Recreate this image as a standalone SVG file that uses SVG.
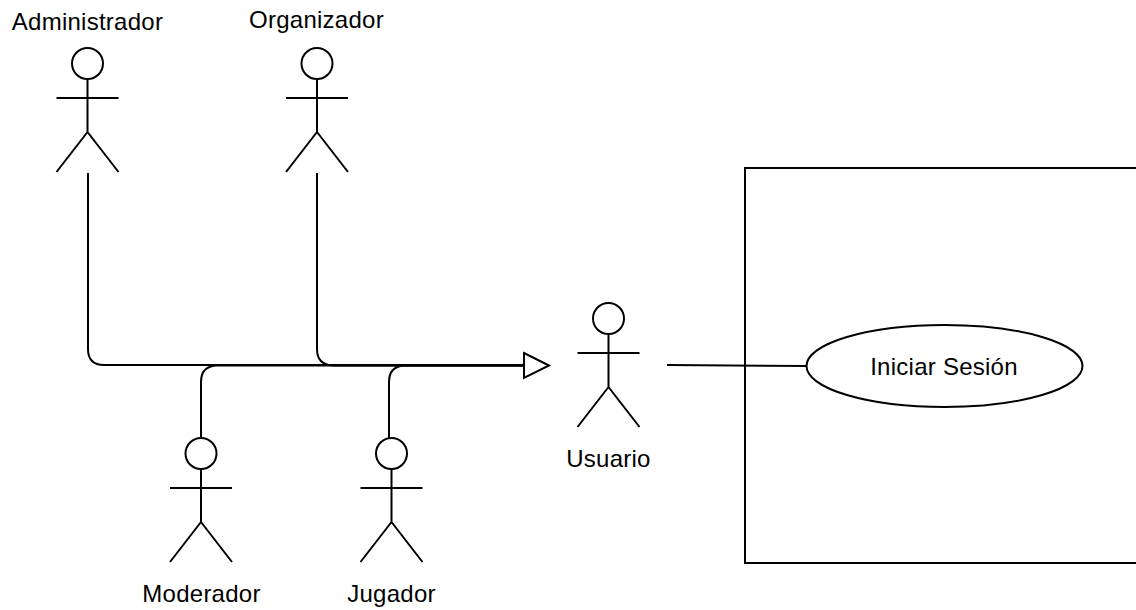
<svg xmlns="http://www.w3.org/2000/svg" width="1136" height="610" viewBox="0 0 1136 610">
<style>
.s{fill:none;stroke:#000;stroke-width:2}
.f{fill:#fff;stroke:#000;stroke-width:2}
text{font-family:"Liberation Sans",Arial,sans-serif;font-size:24px;letter-spacing:.25px;fill:#000;text-anchor:middle}
</style>
<defs>
<g id="actor"><circle class="f" cx="0" cy="15.500" r="15.500"/><path class="s" d="M0 31V84M-31 50H31M0 84L-31 124M0 84L31 124"/></g>
</defs>
<rect width="1136" height="610" fill="#fff"/>
<g id="connectors">
<path class="s" d="M88 173V349Q88 365 104 365H524"/>
<path class="s" d="M317 173V349Q317 365 333 365.500H524"/>
<path class="s" d="M201 438V382Q201 366 217 365.500H524"/>
<path class="s" d="M389 438V382Q389 366 405 365.500H524"/>
<path class="f" d="M524 353L549 365.500L524 378Z"/>
<path class="s" d="M667 365L806 366"/>
</g>
<g id="boundary"><rect class="s" x="745" y="168" width="392" height="395"/></g>
<g id="administrador"><use href="#actor" x="87.500" y="48"/><text x="87.500" y="30">Administrador</text></g>
<g id="organizador"><use href="#actor" x="317" y="48"/><text x="316.500" y="28">Organizador</text></g>
<g id="moderador"><use href="#actor" x="201" y="438"/><text x="201.500" y="602">Moderador</text></g>
<g id="jugador"><use href="#actor" x="391.500" y="438"/><text x="391.500" y="602">Jugador</text></g>
<g id="usuario"><use href="#actor" x="608.500" y="303"/><text x="608.500" y="467">Usuario</text></g>
<g id="iniciar-sesion"><ellipse class="f" cx="944.500" cy="366" rx="138" ry="41"/><text x="944" y="375">Iniciar Sesión</text></g>
</svg>
